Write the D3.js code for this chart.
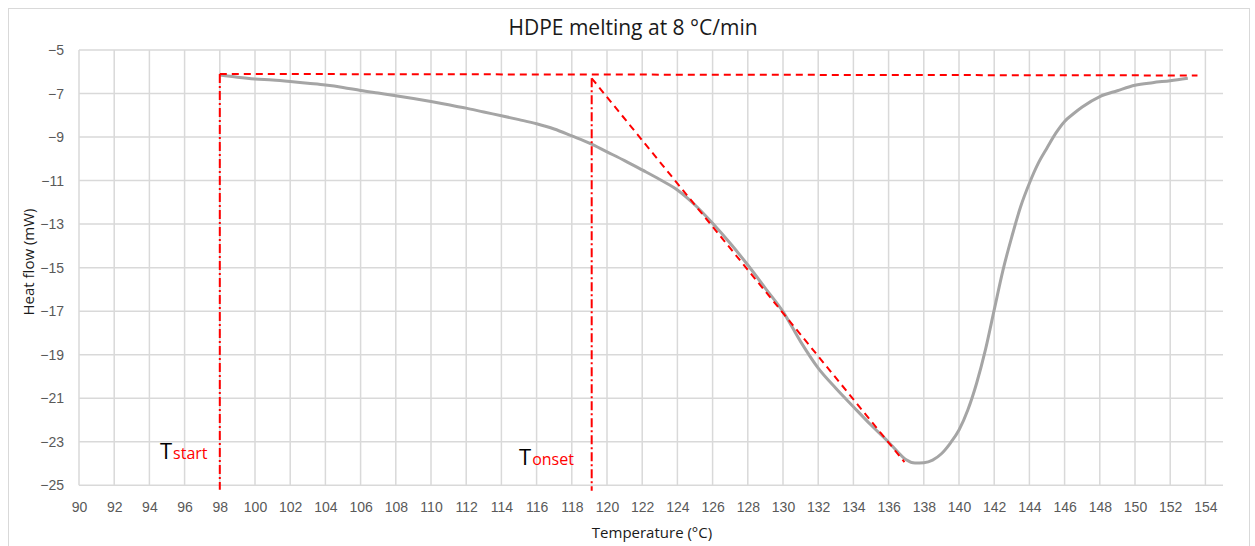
<!DOCTYPE html>
<html>
<head>
<meta charset="utf-8">
<script src="https://cdn.jsdelivr.net/npm/d3@7"></script>
<style>
  body { margin: 0; background: #fff; }
  svg { font-family: "Open Sans", "Liberation Sans", sans-serif; }
  .tick text { fill: #595959; font-size: 14px; }
  .axisLb { fill: #1a1a1a; font-size: 15px; text-anchor: middle; }
</style>
</head>
<body>
<div id="main"></div>
<script>
// DSC curve values
const temperature = [98, 99, 100, 101, 102, 103, 104, 105, 106, 107, 108, 109, 110, 111, 112, 113,
    114, 115, 116, 117, 118, 119, 120, 121, 122, 123, 124, 125, 126, 127, 128, 129, 130, 131, 132,
    133, 134, 135, 136, 136.5, 137, 137.5, 138, 138.5, 139, 139.5, 140, 140.5, 141, 141.5, 142,
    142.5, 143, 143.5, 144, 144.5, 145, 145.5, 146, 146.5, 147, 148, 149, 150, 151, 152, 153];
const heatFlow = [-6.15, -6.25, -6.33, -6.38, -6.45, -6.53, -6.61, -6.72, -6.86, -6.98, -7.10, -7.23,
    -7.37, -7.52, -7.67, -7.85, -8.02, -8.20, -8.39, -8.63, -8.95, -9.28, -9.68, -10.08, -10.51,
    -10.95, -11.43, -12.12, -12.96, -13.88, -14.88, -15.95, -17.02, -18.40, -19.62, -20.54, -21.39,
    -22.23, -23.02, -23.45, -23.83, -23.98, -23.96, -23.84, -23.55, -23.07, -22.46, -21.54, -20.31,
    -18.78, -16.94, -15.11, -13.58, -12.20, -11.12, -10.21, -9.50, -8.82, -8.28, -7.93, -7.62, -7.14,
    -6.87, -6.62, -6.50, -6.41, -6.30];

// construction lines (red)
const baselineT = [98, 153.55];
const baselineHF = [-6.1, -6.17];
const tangentT = [119.13, 136.9];
const tangentHF = [-6.3, -23.93];
const startLineT = [98, 98];
const startLineHF = [-6.1, -25.2];
const onsetLineT = [119.13, 119.13];
const onsetLineHF = [-6.3, -25.25];

// axes
const xDomain = [90, 155];
const yDomain = [-25, -5];
const xTicks = [90, 92, 94, 96, 98, 100, 102, 104, 106, 108, 110, 112, 114, 116, 118, 120, 122,
    124, 126, 128, 130, 132, 134, 136, 138, 140, 142, 144, 146, 148, 150, 152, 154];
const yTicks = [-5, -7, -9, -11, -13, -15, -17, -19, -21, -23, -25];

const ctx = {
    w: 1255,
    h: 546,
    left: 79, right: 1223, top: 50, bottom: 485.3,
};

function initSVGcanvas(){
    ctx.xScale = d3.scaleLinear().domain(xDomain).range([ctx.left, ctx.right]);
    ctx.yScale = d3.scaleLinear().domain(yDomain).range([ctx.bottom, ctx.top]);
    let bkg = d3.select("#bkgG");
    // chart frame
    bkg.append("rect")
       .attr("x", 8.5).attr("y", 8.5)
       .attr("width", 1241).attr("height", 560)
       .attr("fill", "#fff").attr("stroke", "#d9d9d9").attr("stroke-width", 1);
    // gridlines
    bkg.append("g").selectAll("line").data(xTicks).enter().append("line")
       .attr("x1", (d) => ctx.xScale(d)).attr("x2", (d) => ctx.xScale(d))
       .attr("y1", ctx.top).attr("y2", ctx.bottom)
       .attr("stroke", "#d9d9d9").attr("stroke-width", 1.5);
    bkg.append("g").selectAll("line").data(yTicks).enter().append("line")
       .attr("x1", ctx.left).attr("x2", ctx.right)
       .attr("y1", (d) => ctx.yScale(d)).attr("y2", (d) => ctx.yScale(d))
       .attr("stroke", "#d9d9d9").attr("stroke-width", 1.5);
    // x- and y- axes (labels only)
    let xAx = bkg.append("g")
      .attr("transform", `translate(0,${ctx.bottom})`)
      .call(d3.axisBottom(ctx.xScale).tickValues(xTicks).tickSize(0));
    xAx.select(".domain").remove();
    xAx.selectAll("text").attr("y", 22).attr("dy", "0.35em").style("text-anchor", "middle");
    let yAx = bkg.append("g")
      .attr("transform", `translate(${ctx.left},0)`)
      .call(d3.axisLeft(ctx.yScale).tickValues(yTicks).tickSize(0).tickPadding(15));
    yAx.select(".domain").remove();
    yAx.selectAll("text").style("text-anchor", "end");
    // title
    bkg.append("text")
      .attr("x", 633).attr("y", 35)
      .attr("text-anchor", "middle")
      .style("font-size", "21px").style("fill", "#1a1a1a")
      .text("HDPE melting at 8 °C/min");
    // x-axis label
    bkg.append("text")
      .attr("y", 538)
      .attr("x", 652)
      .classed("axisLb", true)
      .text("Temperature (°C)");
    // y-axis label
    bkg.append("text")
      .attr("transform", `translate(34,262) rotate(-90)`)
      .classed("axisLb", true)
      .text("Heat flow (mW)");
}

function populateSVGcanvas(){
    let points = temperature.map((t, i) => [t, heatFlow[i]]);
    let line = d3.line()
        .x((d) => ctx.xScale(d[0]))
        .y((d) => ctx.yScale(d[1]))
        .curve(d3.curveMonotoneX);
    d3.select("#curveG").append("path")
      .datum(points)
      .attr("d", line)
      .attr("fill", "none")
      .attr("stroke", "#a5a5a5")
      .attr("stroke-width", 3)
      .attr("stroke-linejoin", "round");
    // red construction lines
    let straight = d3.line()
        .x((d) => ctx.xScale(d[0]))
        .y((d) => ctx.yScale(d[1]));
    let redG = d3.select("#redG");
    const pairs = (ts, hs) => ts.map((t, i) => [t, hs[i]]);
    [[baselineT, baselineHF], [tangentT, tangentHF]].forEach(([ts, hs]) => {
        redG.append("path").datum(pairs(ts, hs))
            .attr("d", straight).attr("fill", "none")
            .attr("stroke", "#ff0000").attr("stroke-width", 2)
            .attr("stroke-dasharray", "7,5");
    });
    [[startLineT, startLineHF], [onsetLineT, onsetLineHF]].forEach(([ts, hs]) => {
        redG.append("path").datum(pairs(ts, hs))
            .attr("d", straight).attr("fill", "none")
            .attr("stroke", "#ff0000").attr("stroke-width", 2)
            .attr("stroke-dasharray", "9,3,2,3");
    });
    // T labels
    const labels = [{sub: "start", t: 94.6, hf: -23.8}, {sub: "onset", t: 115.0, hf: -24.07}];
    labels.forEach((l) => {
        let txt = redG.append("text")
            .attr("x", ctx.xScale(l.t)).attr("y", ctx.yScale(l.hf));
        txt.append("tspan").style("font-size", "22px").style("fill", "#000").text("T");
        txt.append("tspan").attr("dx", 1).style("font-size", "16px").style("fill", "#ff0000").text(l.sub);
    });
}

function createViz(){
    let svgEl = d3.select("#main").append("svg");
    svgEl.attr("width", ctx.w);
    svgEl.attr("height", ctx.h);
    let rootG = svgEl.append("g").attr("id", "rootG");
    rootG.append("g").attr("id", "bkgG");
    rootG.append("g").attr("id", "curveG");
    rootG.append("g").attr("id", "redG");
    initSVGcanvas();
    populateSVGcanvas();
}

createViz();
</script>
</body>
</html>
